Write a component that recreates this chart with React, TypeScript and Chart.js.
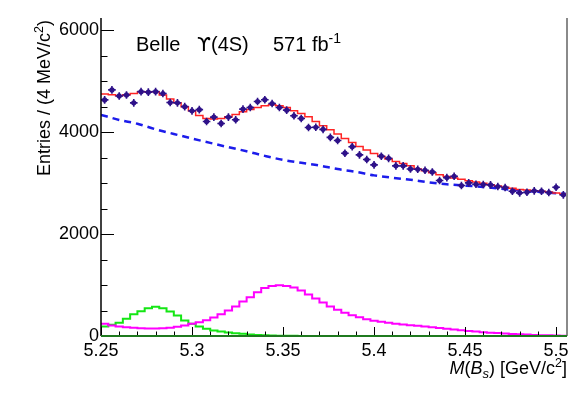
import { useEffect, useRef } from "react";
import { Chart, registerables } from "chart.js";

Chart.register(...registerables);

// ---- axis ranges / ticks ----
const X_MIN = 5.25;
const X_MAX = 5.506;
const BIN_WIDTH = 0.004;
const Y_MIN = 0;
const Y_MAX = 6240;
const xTicks = [5.25, 5.3, 5.35, 5.4, 5.45, 5.5];
const xTickLabels = ["5.25", "5.3", "5.35", "5.4", "5.45", "5.5"];
const xMinorTicks = [5.26, 5.27, 5.28, 5.29, 5.31, 5.32, 5.33, 5.34, 5.36, 5.37, 5.38, 5.39, 5.41, 5.42, 5.43, 5.44, 5.46, 5.47, 5.48, 5.49, 5.5];
const yTicks = [0, 2000, 4000, 6000];
const yTickLabels = ["0", "2000", "4000", "6000"];
const yMinorTicks = [500, 1000, 1500, 2500, 3000, 3500, 4500, 5000, 5500];

// ---- data: entries per 4 MeV bin (64 bins from 5.25) ----
const dataEntries = [
  4633, 4829, 4710, 4730, 4575, 4795, 4785, 4795, 4758, 4582,
  4575, 4500, 4418, 4442, 4210, 4295, 4171, 4295, 4242, 4452,
  4484, 4602, 4637, 4562, 4484, 4432, 4321, 4269, 4092, 4096,
  4055, 3897, 3836, 3587, 3715, 3555, 3463, 3358, 3528, 3486,
  3339, 3339, 3278, 3271, 3251, 3219, 3050, 3108, 3134, 2952,
  3004, 2978, 2972, 2965, 2933, 2913, 2841, 2809, 2822, 2848,
  2841, 2815, 2919, 2770,
];

// total fit (binned)
const fitTotal = [
  4747, 4733, 4714, 4733, 4759, 4792, 4792, 4792, 4727, 4649,
  4577, 4498, 4420, 4328, 4269, 4257, 4269, 4302, 4347, 4400,
  4445, 4484, 4518, 4537, 4518, 4484, 4420, 4367, 4302, 4210,
  4126, 4047, 3963, 3877, 3798, 3720, 3650, 3583, 3524, 3473,
  3426, 3387, 3342, 3277, 3244, 3205, 3165, 3132, 3100, 3074,
  3048, 3022, 2995, 2969, 2944, 2917, 2897, 2877, 2865, 2852,
  2838, 2826, 2807, 2787,
];

// magenta component (binned)
const compMagenta = [
  239, 206, 186, 173, 160, 154, 147, 147, 154, 160,
  180, 206, 239, 271, 310, 363, 428, 500, 578, 676,
  760, 859, 944, 983, 996, 983, 950, 892, 813, 735,
  657, 578, 513, 454, 408, 369, 330, 297, 278, 258,
  239, 228, 213, 200, 185, 170, 155, 142, 128, 112,
  99, 87, 76, 66, 57, 48, 40, 33, 27, 22,
  17, 13, 10, 7,
];

// green component (binned)
const compGreen = [
  186, 219, 258, 337, 428, 487, 545, 572, 545, 480,
  402, 304, 239, 186, 141, 108, 88, 69, 55, 43,
  29, 20, 14, 10, 7, 5, 3, 2, 1, 0,
  0, 0, 0, 0, 0, 0, 0, 0, 0, 0,
  0, 0, 0, 0, 0, 0, 0, 0, 0, 0,
  0, 0, 0, 0, 0, 0, 0, 0, 0, 0,
  0, 0, 0, 0,
];

// background curve (dashed), sampled
const bkgMass = [5.25, 5.26, 5.27, 5.28, 5.29, 5.3, 5.31, 5.32, 5.33, 5.34, 5.35, 5.36, 5.37, 5.38, 5.39, 5.4, 5.41, 5.42, 5.43, 5.44, 5.46, 5.48, 5.5, 5.506];
const bkgEntries = [4340, 4240, 4165, 4055, 3965, 3875, 3790, 3705, 3625, 3535, 3455, 3398, 3345, 3275, 3222, 3152, 3105, 3065, 3015, 2978, 2925, 2855, 2802, 2787];

const FONT = "'Liberation Sans', Arial, Helvetica, sans-serif";
const GREEK_FONT = "'DejaVu Sans', 'Liberation Sans', sans-serif";
const DATA_COLOR = "#2e1189";

function binCenters(vals: number[]) {
  return vals.map((v, i) => ({ x: X_MIN + BIN_WIDTH * (i + 0.5), y: v }));
}
function binSteps(vals: number[]) {
  const pts = vals.map((v, i) => ({ x: X_MIN + BIN_WIDTH * i, y: v }));
  pts.push({ x: X_MAX, y: vals[vals.length - 1] });
  return pts;
}

type Seg = { t: string; size: number; italic?: boolean; dy?: number; family?: string };

function drawRich(ctx: CanvasRenderingContext2D, segs: Seg[], x: number, y: number, align: "left" | "right") {
  ctx.textAlign = "left";
  ctx.textBaseline = "alphabetic";
  const fonts = segs.map((s) => `${s.italic ? "italic " : ""}${s.size}px ${s.family || FONT}`);
  const widths = segs.map((s, i) => {
    ctx.font = fonts[i];
    return ctx.measureText(s.t).width;
  });
  const total = widths.reduce((a, b) => a + b, 0);
  let cx = align === "right" ? x - total : x;
  segs.forEach((s, i) => {
    ctx.font = fonts[i];
    ctx.fillText(s.t, cx, y + (s.dy || 0));
    cx += widths[i];
  });
}

const decorPlugin = {
  id: "rootDecor",
  afterDraw(chart: any) {
    const ctx: CanvasRenderingContext2D = chart.ctx;
    const { left, right, top, bottom } = chart.chartArea;
    const xs = chart.scales.x;
    const ys = chart.scales.y;
    ctx.save();

    // right frame (gray)
    ctx.strokeStyle = "#8a8a8a";
    ctx.lineWidth = 2;
    ctx.beginPath();
    ctx.moveTo(right, top);
    ctx.lineTo(right, bottom);
    ctx.stroke();

    // inward ticks
    ctx.strokeStyle = "#000";
    ctx.lineWidth = 1;
    ctx.beginPath();
    yTicks.forEach((v) => {
      const p = Math.round(ys.getPixelForValue(v)) + 0.5;
      ctx.moveTo(left, p);
      ctx.lineTo(left + 13, p);
    });
    yMinorTicks.forEach((v) => {
      const p = Math.round(ys.getPixelForValue(v)) + 0.5;
      ctx.moveTo(left, p);
      ctx.lineTo(left + 6.5, p);
    });
    xTicks.forEach((v) => {
      const p = Math.round(xs.getPixelForValue(v)) + 0.5;
      ctx.moveTo(p, bottom);
      ctx.lineTo(p, bottom - 9);
    });
    xMinorTicks.forEach((v) => {
      const p = Math.round(xs.getPixelForValue(v)) + 0.5;
      ctx.moveTo(p, bottom);
      ctx.lineTo(p, bottom - 4.5);
    });
    ctx.stroke();

    // left axis
    ctx.strokeStyle = "#000";
    ctx.lineWidth = 1.5;
    ctx.beginPath();
    ctx.moveTo(left, top);
    ctx.lineTo(left, bottom);
    ctx.stroke();

    // bottom axis (dark green line along zero)
    ctx.strokeStyle = "#1f7a1f";
    ctx.lineWidth = 2;
    ctx.beginPath();
    ctx.moveTo(left, bottom);
    ctx.lineTo(right, bottom);
    ctx.stroke();

    ctx.fillStyle = "#000";
    // x title
    drawRich(
      ctx,
      [
        { t: "M", size: 18, italic: true },
        { t: "(", size: 18 },
        { t: "B", size: 18, italic: true },
        { t: "s", size: 13, italic: true, dy: 4 },
        { t: ") [GeV/c", size: 18 },
        { t: "2", size: 12.5, dy: -7 },
        { t: "]", size: 18 },
      ],
      567,
      374,
      "right"
    );

    // y title (rotated)
    ctx.save();
    ctx.translate(50, 20);
    ctx.rotate(-Math.PI / 2);
    drawRich(
      ctx,
      [
        { t: "Entries / (4 MeV/c", size: 18 },
        { t: "2", size: 12.5, dy: -7 },
        { t: ")", size: 18 },
      ],
      0,
      0,
      "right"
    );
    ctx.restore();

    // label
    drawRich(ctx, [{ t: "Belle", size: 20 }], 136, 51, "left");
    drawRich(
      ctx,
      [
        { t: "\u03D2", size: 20, family: GREEK_FONT },
        { t: "(4S)", size: 20 },
      ],
      197,
      51,
      "left"
    );
    drawRich(
      ctx,
      [
        { t: "571 fb", size: 20 },
        { t: "-1", size: 14, dy: -8 },
      ],
      273,
      51,
      "left"
    );
    ctx.restore();
  },
};

export default function App() {
  const canvasRef = useRef<HTMLCanvasElement | null>(null);

  useEffect(() => {
    if (!canvasRef.current) return;
    const chart = new Chart(canvasRef.current, {
      type: "line",
      data: {
        datasets: [
          {
            label: "data",
            data: binCenters(dataEntries),
            showLine: false,
            pointStyle: "circle",
            pointRadius: 2.6,
            pointBackgroundColor: DATA_COLOR,
            pointBorderColor: DATA_COLOR,
            pointBorderWidth: 0,
          },
          {
            label: "data errors",
            data: binCenters(dataEntries),
            showLine: false,
            pointStyle: "cross",
            pointRadius: 3.8,
            pointBorderColor: DATA_COLOR,
            pointBorderWidth: 1.6,
          },
          {
            label: "fit",
            data: binSteps(fitTotal),
            stepped: true,
            borderColor: "#ff2424",
            borderWidth: 1.5,
            pointRadius: 0,
            fill: false,
          },
          {
            label: "magenta",
            data: binSteps(compMagenta),
            stepped: true,
            borderColor: "#ff00ff",
            borderWidth: 2,
            pointRadius: 0,
            fill: false,
          },
          {
            label: "green",
            data: binSteps(compGreen),
            stepped: true,
            borderColor: "#14e614",
            borderWidth: 2,
            pointRadius: 0,
            fill: false,
          },
          {
            label: "background",
            data: bkgMass.map((m, i) => ({ x: m, y: bkgEntries[i] })),
            borderColor: "#1c1ceb",
            borderWidth: 2.5,
            borderDash: [7, 5],
            cubicInterpolationMode: "monotone",
            pointRadius: 0,
            fill: false,
          },
        ],
      },
      options: {
        animation: false,
        responsive: false,
        devicePixelRatio: 1,
        layout: { padding: { left: 0, right: 14, top: 18, bottom: 0 } },
        plugins: { legend: { display: false }, tooltip: { enabled: false } },
        scales: {
          x: {
            type: "linear",
            min: X_MIN,
            max: X_MAX,
            grid: { display: false, drawTicks: false },
            border: { display: false },
            afterBuildTicks: (s: any) => {
              s.ticks = xTicks.map((v) => ({ value: v }));
            },
            afterFit: (s: any) => {
              s.height = 61;
              s.paddingLeft = 0;
              s.paddingRight = 0;
            },
            ticks: {
              autoSkip: false,
              maxRotation: 0,
              padding: 4,
              color: "#000",
              font: { family: FONT, size: 18 },
              callback: (_v: any, i: number) => xTickLabels[i],
            },
          },
          y: {
            type: "linear",
            min: Y_MIN,
            max: Y_MAX,
            grid: { display: false, drawTicks: false },
            border: { display: false },
            afterBuildTicks: (s: any) => {
              s.ticks = yTicks.map((v) => ({ value: v }));
            },
            afterFit: (s: any) => {
              s.width = 101;
              s.paddingTop = 0;
              s.paddingBottom = 0;
            },
            ticks: {
              padding: 2,
              color: "#000",
              font: { family: FONT, size: 18 },
              callback: (_v: any, i: number) => yTickLabels[i],
            },
          },
        },
      },
      plugins: [decorPlugin],
    } as any);
    return () => chart.destroy();
  }, []);

  return (
    <div style={{ position: "fixed", left: 0, top: 0, width: 581, height: 397, background: "#fff" }}>
      <canvas ref={canvasRef} width={581} height={397} style={{ display: "block" }} />
    </div>
  );
}
